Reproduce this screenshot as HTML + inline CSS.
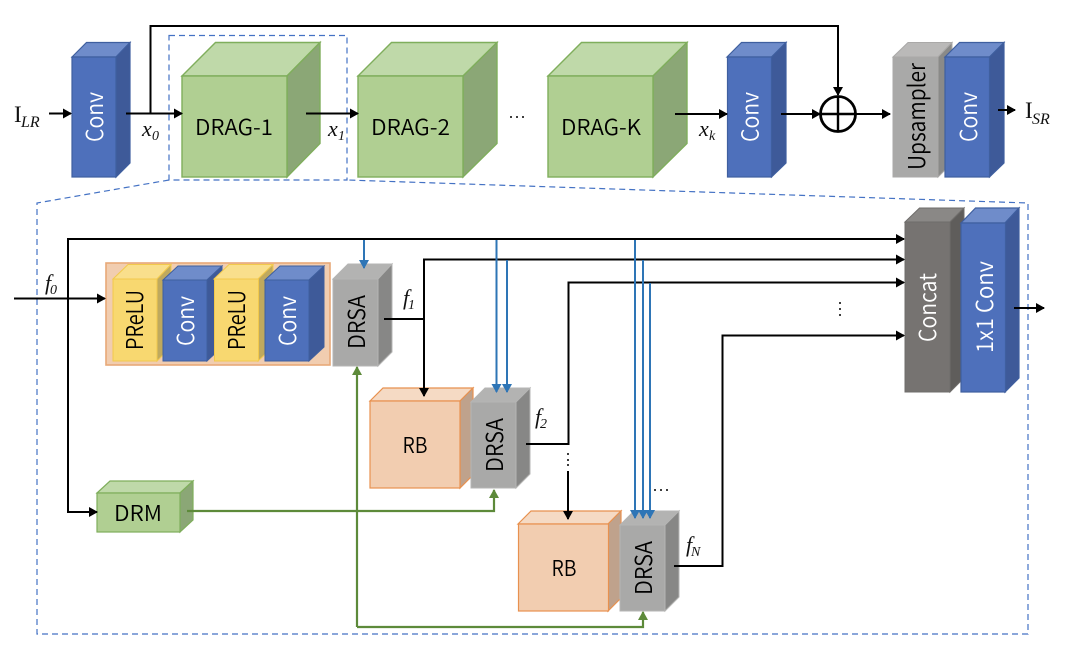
<!DOCTYPE html>
<html><head><meta charset="utf-8"><style>
html,body{margin:0;padding:0;background:#fff;width:1084px;height:660px;overflow:hidden}
svg{display:block}
.s{font-family:"Noto Sans CJK KR","Liberation Sans",sans-serif;font-size:22px;font-weight:350}
.v{font-size:23.500px}
.m{font-family:"Liberation Serif",serif;font-style:italic}
.r{font-family:"Liberation Serif",serif}
.k{fill:none;stroke:#000;stroke-width:2}
.b{fill:none;stroke:#2e75b6;stroke-width:2}
.g{fill:none;stroke:#5d8a3a;stroke-width:2.2}
.d{fill:none;stroke:#4472c4;stroke-width:1.2;stroke-dasharray:6 4}
</style></head><body>
<svg width="1084" height="660" viewBox="0 0 1084 660" xmlns="http://www.w3.org/2000/svg">
<defs>
<marker id="ak" markerUnits="userSpaceOnUse" markerWidth="9" markerHeight="10" refX="8" refY="5" orient="auto"><path d="M0 0L9 5L0 10Z" fill="#000"/></marker>
<marker id="ab" markerUnits="userSpaceOnUse" markerWidth="9" markerHeight="10" refX="8" refY="5" orient="auto"><path d="M0 0L9 5L0 10Z" fill="#2e75b6"/></marker>
<marker id="ag" markerUnits="userSpaceOnUse" markerWidth="9" markerHeight="10" refX="8" refY="5" orient="auto"><path d="M0 0L9 5L0 10Z" fill="#5d8a3a"/></marker>
</defs>

<!-- dashed -->
<rect class="d" x="169" y="35.500" width="178" height="144.500"/>
<path class="d" d="M169 180L37 203V634H1028V203L347 180"/>

<!-- top row cubes -->
<g stroke="#3f5f9f" stroke-width="1.2">
<polygon points="72,57 86.500,42.500 130,42.500 116,57" fill="#6f8cca"/><polygon points="116,57 130,42.500 130,163 116,177" fill="#3e5a99"/><rect x="72" y="57" width="44" height="120" fill="#4e70bb"/>
<polygon points="727,57 741.500,42.500 786,42.500 771.500,57" fill="#6f8cca"/><polygon points="771.500,57 786,42.500 786,163 771.500,177" fill="#3e5a99"/><rect x="727.500" y="57" width="44" height="120" fill="#4e70bb"/>
</g>
<g stroke="#7fae5c" stroke-width="1.4">
<polygon points="182,76 215.500,42.500 320,42.500 287,76" fill="#bfd9a9"/><polygon points="287,76 320,42.500 320,143.500 287,177" fill="#8ba776"/><rect x="182" y="76" width="105" height="101" fill="#b0cf92"/>
<polygon points="358,76 391.500,42.500 497,42.500 463,76" fill="#bfd9a9"/><polygon points="463,76 497,42.500 497,143.500 463,177" fill="#8ba776"/><rect x="358" y="76" width="105" height="101" fill="#b0cf92"/>
<polygon points="548,76 581.500,42.500 687,42.500 653,76" fill="#bfd9a9"/><polygon points="653,76 687,42.500 687,143.500 653,177" fill="#8ba776"/><rect x="548" y="76" width="105" height="101" fill="#b0cf92"/>
</g>
<g stroke="#aaa9a8" stroke-width="1">
<polygon points="893,57 908,42.500 952,42.500 938,57" fill="#bab9b8"/><polygon points="938,57 952,42.500 952,163 938,177" fill="#8a8a88"/><rect x="893" y="57" width="45" height="120" fill="#a9a9a8"/>
</g>
<g stroke="#3f5f9f" stroke-width="1.2">
<polygon points="945,57 959.500,42.500 1004,42.500 989.500,57" fill="#6f8cca"/><polygon points="989.500,57 1004,42.500 1004,163 989.500,177" fill="#3e5a99"/><rect x="945" y="57" width="44.500" height="120" fill="#4e70bb"/>
</g>

<!-- bottom block -->
<rect x="106" y="263" width="224" height="102" fill="#f1cdb0" stroke="#e8a878" stroke-width="1.6"/>
<g stroke="#f2c94c" stroke-width="1">
<polygon points="113,279 128,264.500 171,264.500 157,279" fill="#f9df8c"/><polygon points="157,279 171,264.500 171,347 157,361" fill="#bfa95e"/><rect x="113" y="279" width="44" height="82" fill="#f8d870"/>
</g>
<g stroke="#3f5f9f" stroke-width="1">
<polygon points="163,280 178,266 222,266 207,280" fill="#6f8cca"/><polygon points="207,280 222,266 222,347 207,361" fill="#3e5a99"/><rect x="163" y="280" width="44" height="81" fill="#4e70bb"/>
</g>
<g stroke="#f2c94c" stroke-width="1">
<polygon points="214,279 229,264.500 273,264.500 258,279" fill="#f9df8c"/><polygon points="258,279 273,264.500 273,347 258,361" fill="#bfa95e"/><rect x="214.500" y="279" width="44" height="82" fill="#f8d870"/>
</g>
<g stroke="#3f5f9f" stroke-width="1">
<polygon points="265,280 280,266 324,266 309,280" fill="#6f8cca"/><polygon points="309,280 324,266 324,347 309,361" fill="#3e5a99"/><rect x="265" y="280" width="44" height="81" fill="#4e70bb"/>
</g>

<!-- DRSA / RB -->
<g stroke="#b5b5b4" stroke-width="1">
<polygon points="333,279 348,264 392,264 378,279" fill="#b3b3b2"/><polygon points="378,279 392,264 392,352 378,366" fill="#878786"/><rect x="333" y="279" width="45" height="87" fill="#a9a9a8"/>
</g>
<g stroke="#e8914f" stroke-width="1.2">
<polygon points="370,401 383,388 473,388 460,401" fill="#f5dac4"/><polygon points="460,401 473,388 473,475 460,488" fill="#bfa28c"/><rect x="370" y="401" width="90" height="87" fill="#f2cdb0"/>
<polygon points="518,524 531,511 621,511 608,524" fill="#f5dac4"/><polygon points="608,524 621,511 621,598 608,611" fill="#bfa28c"/><rect x="518.500" y="524" width="90" height="87" fill="#f2cdb0"/>
</g>
<g stroke="#b5b5b4" stroke-width="1">
<polygon points="471,402 485,388 530,388 516,402" fill="#b3b3b2"/><polygon points="516,402 530,388 530,474 516,488" fill="#878786"/><rect x="471" y="402" width="45" height="86" fill="#a9a9a8"/>
<polygon points="620,525 634,511 679,511 665,525" fill="#b3b3b2"/><polygon points="665,525 679,511 679,597 665,611" fill="#878786"/><rect x="620" y="525" width="45" height="86" fill="#a9a9a8"/>
</g>
<g stroke="#7fae5c" stroke-width="1.2">
<polygon points="97,493 110,481 193,481 180,493" fill="#bfd9a9"/><polygon points="180,493 193,481 193,520 180,532" fill="#8ba776"/><rect x="97" y="493" width="83" height="39" fill="#b0cf92"/>
</g>
<g stroke="#6f6d6b" stroke-width="1">
<polygon points="905,222 919.500,208 964,208 950,222" fill="#8a8886"/><polygon points="950,222 964,208 964,378 950,392" fill="#5f5d5b"/><rect x="905" y="222" width="45" height="170" fill="#767371"/>
</g>
<g stroke="#3f5f9f" stroke-width="1.2">
<polygon points="961,223 975.500,208 1019,208 1005,223" fill="#6f8cca"/><polygon points="1005,223 1019,208 1019,378 1005,392" fill="#3e5a99"/><rect x="961" y="223" width="44.500" height="169" fill="#4e70bb"/>
</g>

<!-- top connectors -->
<path class="k" d="M49 113.500H71" marker-end="url(#ak)"/>
<path class="k" d="M126 113.500H182" marker-end="url(#ak)"/>
<path class="k" d="M150.500 113V26H838V95" marker-end="url(#ak)"/>
<path class="k" d="M306 113.500H358" marker-end="url(#ak)"/>
<path class="k" d="M675 114H727" marker-end="url(#ak)"/>
<path class="k" d="M781 114H820" marker-end="url(#ak)"/>
<path class="k" d="M856 114H890" marker-end="url(#ak)"/>
<path class="k" d="M998 110H1015" marker-end="url(#ak)"/>
<circle cx="838" cy="114" r="17.500" fill="none" stroke="#000" stroke-width="2.800"/>
<path d="M820 114H856M838 96V132" fill="none" stroke="#000" stroke-width="2.400"/>

<!-- bottom connectors -->
<path class="k" d="M14 298.500H105" marker-end="url(#ak)"/>
<path class="k" d="M68 298V239H904" marker-end="url(#ak)"/>
<path class="k" d="M68 298V512H97" marker-end="url(#ak)"/>
<path class="k" d="M384 319H424"/>
<path class="k" d="M424 319V396" marker-end="url(#ak)"/>
<path class="k" d="M424 319V259.500H904" marker-end="url(#ak)"/>
<path class="k" d="M526 444H568.500V282.500H904" marker-end="url(#ak)"/>
<path class="k" d="M568 471V519" marker-end="url(#ak)"/>
<path class="k" d="M674 566H722.500V335.500H904" marker-end="url(#ak)"/>
<path class="k" d="M1014 308H1044" marker-end="url(#ak)"/>

<path class="b" d="M364 240V268" marker-end="url(#ab)"/>
<path class="b" d="M496.500 240V392" marker-end="url(#ab)"/>
<path class="b" d="M507 260V392" marker-end="url(#ab)"/>
<path class="b" d="M635 240V518" marker-end="url(#ab)"/>
<path class="b" d="M643 260V518" marker-end="url(#ab)"/>
<path class="b" d="M650 283V518" marker-end="url(#ab)"/>

<path class="g" d="M187 511H494V490" marker-end="url(#ag)"/>
<path class="g" d="M357 627V367" marker-end="url(#ag)"/>
<path class="g" d="M357 627H643V612" marker-end="url(#ag)"/>

<!-- dots -->
<g fill="#000">
<circle cx="511" cy="117" r="1"/><circle cx="517" cy="117" r="1"/><circle cx="523" cy="117" r="1"/>
<circle cx="568" cy="454" r="1"/><circle cx="568" cy="460" r="1"/><circle cx="568" cy="465" r="1"/>
<circle cx="655" cy="490" r="1"/><circle cx="661" cy="490" r="1"/><circle cx="667" cy="490" r="1"/>
<circle cx="840" cy="303" r="1"/><circle cx="840" cy="309" r="1"/><circle cx="840" cy="315" r="1"/>
</g>

<!-- labels -->
<g class="s" fill="#000">
<text x="234" y="135" text-anchor="middle" textLength="78" lengthAdjust="spacingAndGlyphs">DRAG-1</text>
<text x="410.500" y="135" text-anchor="middle" textLength="79" lengthAdjust="spacingAndGlyphs">DRAG-2</text>
<text x="601" y="135" text-anchor="middle" textLength="80" lengthAdjust="spacingAndGlyphs">DRAG-K</text>
<text x="415" y="453" text-anchor="middle" textLength="25" lengthAdjust="spacingAndGlyphs">RB</text>
<text x="564" y="576" text-anchor="middle" textLength="25" lengthAdjust="spacingAndGlyphs">RB</text>
<text x="138" y="521" text-anchor="middle" textLength="48" lengthAdjust="spacingAndGlyphs">DRM</text>
<text class="v" transform="translate(103,117) rotate(-90)" text-anchor="middle" fill="#fff" textLength="50" lengthAdjust="spacingAndGlyphs">Conv</text>
<text class="v" transform="translate(758.500,117) rotate(-90)" text-anchor="middle" fill="#fff" textLength="50" lengthAdjust="spacingAndGlyphs">Conv</text>
<text class="v" transform="translate(977,117) rotate(-90)" text-anchor="middle" fill="#fff" textLength="50" lengthAdjust="spacingAndGlyphs">Conv</text>
<text class="v" transform="translate(925,116.500) rotate(-90)" text-anchor="middle" textLength="107" lengthAdjust="spacingAndGlyphs">Upsampler</text>
<text class="v" transform="translate(143,320) rotate(-90)" text-anchor="middle" textLength="60" lengthAdjust="spacingAndGlyphs">PReLU</text>
<text class="v" transform="translate(245,320) rotate(-90)" text-anchor="middle" textLength="60" lengthAdjust="spacingAndGlyphs">PReLU</text>
<text class="v" transform="translate(194,321) rotate(-90)" text-anchor="middle" fill="#fff" textLength="50" lengthAdjust="spacingAndGlyphs">Conv</text>
<text class="v" transform="translate(296,321) rotate(-90)" text-anchor="middle" fill="#fff" textLength="50" lengthAdjust="spacingAndGlyphs">Conv</text>
<text class="v" transform="translate(365,322) rotate(-90)" text-anchor="middle" textLength="54" lengthAdjust="spacingAndGlyphs">DRSA</text>
<text class="v" transform="translate(503,445) rotate(-90)" text-anchor="middle" textLength="54" lengthAdjust="spacingAndGlyphs">DRSA</text>
<text class="v" transform="translate(652,568) rotate(-90)" text-anchor="middle" textLength="54" lengthAdjust="spacingAndGlyphs">DRSA</text>
<text class="v" transform="translate(936,307.500) rotate(-90)" text-anchor="middle" fill="#fff" textLength="69" lengthAdjust="spacingAndGlyphs">Concat</text>
<text class="v" transform="translate(993,307) rotate(-90)" text-anchor="middle" fill="#fff" textLength="92" lengthAdjust="spacingAndGlyphs">1x1 Conv</text>
</g>

<g fill="#111">
<text class="r" x="14" y="122" font-size="23">I</text><text class="m" x="21" y="127" font-size="16">LR</text>
<text class="r" x="1025" y="118" font-size="23">I</text><text class="m" x="1032" y="124" font-size="16">SR</text>
<text class="m" x="142" y="136" font-size="22">x</text><text class="m" x="152" y="140" font-size="14">0</text>
<text class="m" x="328" y="136" font-size="22">x</text><text class="m" x="338" y="140" font-size="14">1</text>
<text class="m" x="699" y="136" font-size="22">x</text><text class="m" x="709" y="140" font-size="14">k</text>
<text class="m" x="45" y="290" font-size="22">f</text><text class="m" x="50" y="294" font-size="14">0</text>
<text class="m" x="403" y="305" font-size="22">f</text><text class="m" x="408" y="309" font-size="14">1</text>
<text class="m" x="535" y="424" font-size="22">f</text><text class="m" x="540" y="428" font-size="14">2</text>
<text class="m" x="686" y="552" font-size="22">f</text><text class="m" x="691" y="556" font-size="14">N</text>
</g>
</svg>
</body></html>
